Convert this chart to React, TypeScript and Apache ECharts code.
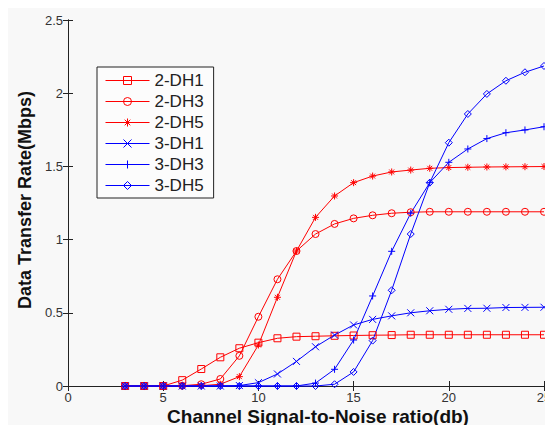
import React, { useEffect, useRef } from "react";
import * as echarts from "echarts";

const xValues = [3, 4, 5, 6, 7, 8, 9, 10, 11, 12, 13, 14, 15, 16, 17, 18, 19, 20, 21, 22, 23, 24, 25];
const seriesNames = ["2-DH1", "2-DH3", "2-DH5", "3-DH1", "3-DH3", "3-DH5"];
const dh1_2 = [0, 0, 0, 0.04, 0.116, 0.196, 0.258, 0.296, 0.326, 0.337, 0.34, 0.343, 0.345, 0.347, 0.348, 0.35, 0.35, 0.35, 0.35, 0.35, 0.35, 0.35, 0.35];
const dh3_2 = [0, 0, 0, 0.002, 0.012, 0.048, 0.206, 0.473, 0.729, 0.922, 1.038, 1.107, 1.145, 1.166, 1.18, 1.187, 1.19, 1.19, 1.19, 1.19, 1.19, 1.19, 1.19];
const dh5_2 = [0, 0, 0, 0, 0.002, 0.012, 0.064, 0.28, 0.606, 0.922, 1.152, 1.298, 1.389, 1.434, 1.462, 1.475, 1.487, 1.492, 1.494, 1.496, 1.497, 1.498, 1.499];
const dh1_3 = [0, 0, 0, 0, 0, 0, 0.003, 0.023, 0.082, 0.168, 0.268, 0.348, 0.417, 0.455, 0.479, 0.5, 0.514, 0.524, 0.53, 0.531, 0.536, 0.537, 0.538];
const dh3_3 = [0, 0, 0, 0, 0, 0, 0, 0, 0, 0, 0.02, 0.114, 0.314, 0.615, 0.92, 1.18, 1.389, 1.528, 1.619, 1.69, 1.73, 1.749, 1.771];
const dh5_3 = [0, 0, 0, 0, 0, 0, 0, 0, 0, 0, 0, 0.012, 0.096, 0.31, 0.654, 1.038, 1.389, 1.662, 1.858, 1.995, 2.085, 2.143, 2.186];
const seriesValues = [dh1_2, dh3_2, dh5_2, dh1_3, dh3_3, dh5_3];
const xTitle = "Channel Signal-to-Noise ratio(db)";
const yTitle = "Data Transfer Rate(Mbps)";

const RED = "#ff0000";
const BLUE = "#0000ff";
const colors = [RED, RED, RED, BLUE, BLUE, BLUE];
const symbols = [
  "path://M0,0L10,0L10,10L0,10Z",
  "path://M0,5A5,5,0,1,1,10,5A5,5,0,1,1,0,5Z",
  "path://M5,0L5,10M0,5L10,5M1.5,1.5L8.5,8.5M8.5,1.5L1.5,8.5",
  "path://M0,0L10,10M10,0L0,10",
  "path://M5,0L5,10M0,5L10,5",
  "path://M5,0L10,5L5,10L0,5Z",
];

const FONT = 'Arial, "Liberation Sans", Helvetica, sans-serif';

export default function App() {
  const ref = useRef<HTMLDivElement>(null);
  useEffect(() => {
    if (!ref.current) return;
    const chart = echarts.init(ref.current, undefined, { renderer: "svg" });
    const axisCommon = {
      type: "value" as const,
      axisLine: { show: true, lineStyle: { color: "#222", width: 1 } },
      axisTick: { show: true, inside: true, length: 5, lineStyle: { color: "#222" } },
      splitLine: { show: false },
    };
    chart.setOption({
      animation: false,
      backgroundColor: "#f8f8f8",
      textStyle: { fontFamily: FONT },
      grid: { left: 60, top: 12, right: 1, bottom: 39, containLabel: false, outerBoundsMode: "none" },
      xAxis: [
        {
          ...axisCommon,
          position: "bottom",
          min: 0,
          max: 25,
          interval: 5,
          axisLabel: { color: "#333", fontSize: 13, margin: 5, fontFamily: FONT, hideOverlap: false },
        },
        {
          ...axisCommon,
          position: "top",
          min: 0,
          max: 25,
          interval: 5,
          axisLabel: { show: false },
        },
      ],
      yAxis: [
        {
          ...axisCommon,
          position: "left",
          min: 0,
          max: 2.5,
          interval: 0.5,
          axisLabel: { color: "#333", fontSize: 13, margin: 5, fontFamily: FONT },
        },
        {
          ...axisCommon,
          position: "right",
          min: 0,
          max: 2.5,
          interval: 0.5,
          axisLabel: { show: false },
        },
      ],
      legend: {
        orient: "vertical",
        left: 89,
        top: 59,
        padding: [5, 10, 4, 8],
        itemWidth: 44,
        itemHeight: 10,
        itemGap: 4,
        selectedMode: false,
        backgroundColor: "#fcfcfc",
        borderColor: "#222",
        borderWidth: 1,
        borderRadius: 0,
        textStyle: { fontSize: 17, lineHeight: 17, color: "#222", fontFamily: FONT },
        data: seriesNames.map((n, i) => ({
          name: n,
          itemStyle: { color: "none", borderColor: colors[i], borderWidth: 1 },
          lineStyle: { color: colors[i], width: 1 },
        })),
      },
      series: seriesNames.map((n, i) => ({
        name: n,
        type: "line",
        xAxisIndex: 0,
        yAxisIndex: 0,
        data: xValues.map((x, j) => [x, seriesValues[i][j]]),
        symbol: symbols[i],
        symbolSize: 7,
        showAllSymbol: true,
        silent: true,
        clip: false,
        itemStyle: { color: "none", borderColor: colors[i], borderWidth: 1 },
        lineStyle: { color: colors[i], width: 1 },
        emphasis: { disabled: true },
      })),
      graphic: [
        {
          type: "text",
          x: 310,
          y: 408,
          style: {
            text: xTitle,
            font: `bold 19px ${FONT}`,
            fill: "#111",
            textAlign: "center",
            textVerticalAlign: "middle",
          },
        },
        {
          type: "text",
          x: 17,
          y: 192,
          rotation: Math.PI / 2,
          style: {
            text: yTitle,
            font: `bold 18px ${FONT}`,
            fill: "#111",
            textAlign: "center",
            textVerticalAlign: "middle",
          },
        },
      ],
    });
    return () => chart.dispose();
  }, []);
  return (
    <div
      style={{
        position: "fixed",
        left: 0,
        top: 0,
        width: 545,
        height: 425,
        overflow: "hidden",
        background: "#ffffff",
      }}
    >
      <div ref={ref} style={{ position: "absolute", left: 8, top: 8, width: 537, height: 417 }} />
    </div>
  );
}
